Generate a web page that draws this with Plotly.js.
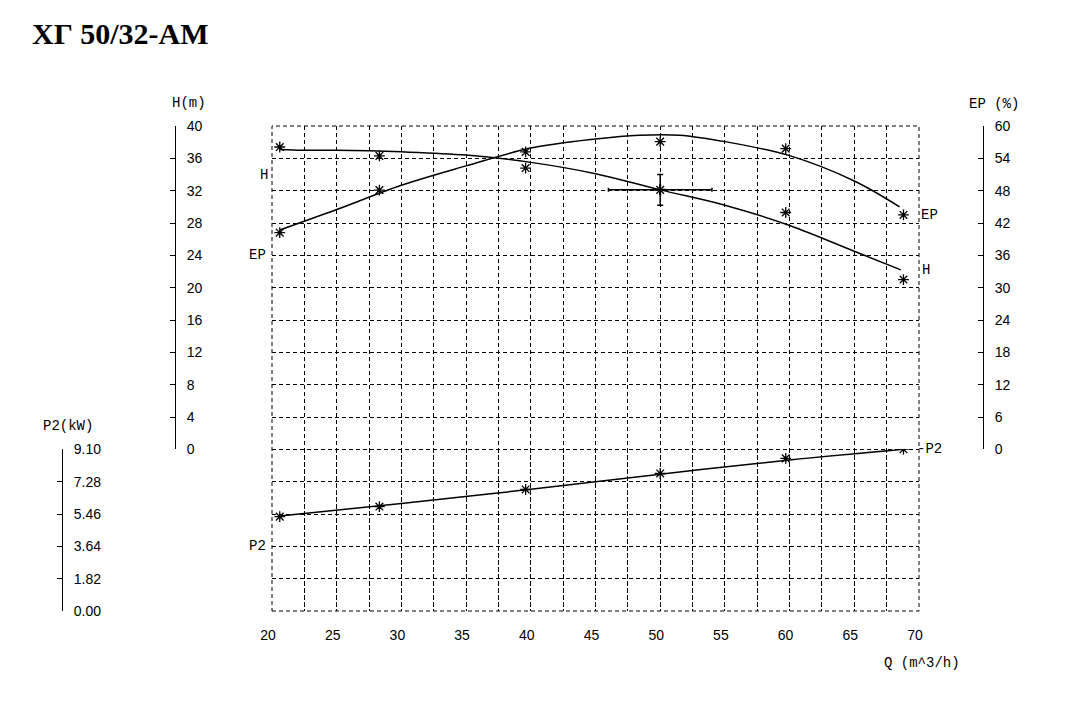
<!DOCTYPE html>
<html>
<head>
<meta charset="utf-8">
<script src="https://cdn.plot.ly/plotly-3.0.1.min.js"></script>
<style>html,body{margin:0;padding:0;background:#fff;}#chart{width:1074px;height:719px;}</style>
</head>
<body>
<div id="chart"></div>
<script>
// ---- data ----
const chartTitle = 'ХГ 50/32-АМ';
const xTickVals = [20, 22.5, 25, 27.5, 30, 32.5, 35, 37.5, 40, 42.5, 45, 47.5, 50, 52.5, 55, 57.5, 60, 62.5, 65, 67.5, 70];
const xTickText = ['20', '', '25', '', '30', '', '35', '', '40', '', '45', '', '50', '', '55', '', '60', '', '65', '', '70'];
const hTicks = [0, 4, 8, 12, 16, 20, 24, 28, 32, 36, 40];
const epTicks = [0, 6, 12, 18, 24, 30, 36, 42, 48, 54, 60];
const p2Ticks = [0, 1.82, 3.64, 5.46, 7.28, 9.10];

// measured points (asterisks)
const qPoints  = [20.6, 28.3, 39.6, 50.0, 59.7, 68.8];
const hPoints  = [37.4, 36.3, 34.8, 32.1, 29.3, 21.0];
const epPoints = [40.2, 48.1, 55.2, 57.1, 55.8, 43.5];
const p2Points = [5.31, 5.88, 6.84, 7.74, 8.59, 9.10];

// fitted curves
const qCurveH  = [20.6, 22.4, 25, 30, 35, 40, 45, 50, 55, 60, 65, 68.6];
const hCurve   = [37.1, 37.0, 37.0, 36.8, 36.4, 35.5, 34.1, 32.1, 30.2, 27.7, 24.5, 22.2];
const qCurveEP = [20.6, 25, 30, 35, 40, 45, 48.4, 51.5, 55, 60, 65, 68.5];
const epCurve  = [40.7, 44.5, 49.0, 52.6, 55.9, 57.6, 58.3, 58.3, 57.1, 54.5, 49.8, 45.0];
const qCurveP2 = [20.6, 30, 40, 50, 60, 68.8];
const p2Curve  = [5.35, 6.05, 6.85, 7.70, 8.50, 9.10];

// duty point with tolerance
const dutyQ = [50.0];
const dutyH = [32.1];
const dutyQTol = [4.0];
const dutyHTol = [1.9];

// ---- layout helpers ----
const W = 1074, H = 719;
const plotL = 272, plotR = 919, plotT = 126, plotB = 611;
const px = (x) => x / W;                               // paper x (margins l=r=0)
const py = (y) => (plotB - y) / (plotB - plotT);       // paper y (relative to plot area)
const lineFont = {family: 'Liberation Mono, DejaVu Sans Mono, monospace', size: 14, color: '#000'};
const tickFont = {family: 'Liberation Sans, Arial, sans-serif', size: 14, color: '#000'};
const dash = '4px,3px';

const curveLine = {color: '#000', width: 1.5, shape: 'spline', smoothing: 1};
const starMarker = {symbol: 'asterisk-open', size: 9, color: '#000', line: {color: '#000', width: 1.3}};

const traces = [
  // empty trace to create the full-height grid subplot
  {x: [], y: [], xaxis: 'x', yaxis: 'y', mode: 'markers', hoverinfo: 'skip'},
  {x: qCurveH, y: hCurve, xaxis: 'x', yaxis: 'y2', mode: 'lines', line: curveLine, hoverinfo: 'skip'},
  {x: qPoints, y: hPoints, xaxis: 'x', yaxis: 'y2', mode: 'markers', marker: starMarker},
  {x: qCurveEP, y: epCurve, xaxis: 'x', yaxis: 'y3', mode: 'lines', line: curveLine, hoverinfo: 'skip'},
  {x: qPoints, y: epPoints, xaxis: 'x', yaxis: 'y3', mode: 'markers', marker: starMarker},
  {x: qCurveP2, y: p2Curve, xaxis: 'x', yaxis: 'y4', mode: 'lines', line: curveLine, hoverinfo: 'skip'},
  {x: qPoints, y: p2Points, xaxis: 'x', yaxis: 'y4', mode: 'markers', marker: starMarker},
  {x: dutyQ, y: dutyH, xaxis: 'x', yaxis: 'y2', mode: 'markers',
   marker: {symbol: 'cross-thin-open', size: 8, color: '#000', line: {color: '#000', width: 2}},
   error_x: {type: 'data', array: dutyQTol, color: '#000', thickness: 1.5, width: 2},
   error_y: {type: 'data', array: dutyHTol, color: '#000', thickness: 1.5, width: 3}}
];

const sideAxis = (extra) => Object.assign({
  anchor: 'free', side: 'right', ticks: 'inside', ticklen: 5, tickwidth: 1, tickcolor: '#000',
  showline: true, linecolor: '#000', linewidth: 1, showgrid: false, zeroline: false,
  tickfont: tickFont, ticklabelstandoff: 8, fixedrange: true
}, extra);

const labelAnn = (text, xref, yref, x, y, xanchor, xshift) =>
  ({text, xref, yref, x, y, xanchor, xshift, yanchor: 'middle', showarrow: false, font: lineFont});

const layout = {
  width: W, height: H,
  margin: {l: 0, r: 0, t: plotT, b: H - plotB},
  paper_bgcolor: '#fff', plot_bgcolor: 'rgba(0,0,0,0)',
  showlegend: false,
  title: {text: chartTitle, xref: 'container', yref: 'container', x: 32 / W, xanchor: 'left',
          y: 1 - 33 / H, yanchor: 'middle',
          font: {family: 'Liberation Serif, Times New Roman, serif', size: 30, weight: 'bold', color: '#000'}},
  xaxis: {domain: [px(plotL), px(plotR)], range: [20, 70], anchor: 'y',
          tickmode: 'array', tickvals: xTickVals, ticktext: xTickText, ticks: '',
          showgrid: true, gridcolor: '#000', gridwidth: 1, griddash: dash,
          showline: false, zeroline: false, tickfont: tickFont, ticklabelstandoff: 14, ticklabelshift: -4,
          fixedrange: true},
  yaxis: {domain: [0, 1], range: [0, 15], dtick: 1, tick0: 0, anchor: 'x',
          showgrid: true, gridcolor: '#000', gridwidth: 1, griddash: dash,
          showticklabels: false, ticks: '', showline: false, zeroline: false, fixedrange: true},
  yaxis2: sideAxis({domain: [5 / 15, 1], range: [0, 40], tickmode: 'array', tickvals: hTicks, position: px(175)}),
  yaxis3: sideAxis({domain: [5 / 15, 1], range: [0, 60], tickmode: 'array', tickvals: epTicks, position: px(983)}),
  yaxis4: sideAxis({domain: [0, 5 / 15], range: [0, 9.1], tickmode: 'array', tickvals: p2Ticks, tickformat: '.2f', position: px(62)}),
  shapes: [
    {type: 'rect', xref: 'x domain', yref: 'y domain', x0: 0, x1: 1, y0: 0, y1: 1,
     line: {color: '#000', width: 1, dash: dash}, fillcolor: 'rgba(0,0,0,0)', layer: 'below'}
  ],
  annotations: [
    labelAnn('H(m)', 'paper', 'paper', px(189), py(103), 'center', 0),
    labelAnn('EP (%)', 'paper', 'paper', px(994), py(104), 'center', 0),
    labelAnn('P2(kW)', 'paper', 'paper', px(68), py(426), 'center', 0),
    labelAnn('Q (m^3/h)', 'paper', 'paper', px(922), py(663), 'center', 0),
    // curve labels, left of the plot
    labelAnn('H', 'x', 'y2', 20, 34.0, 'right', -2),
    labelAnn('EP', 'x', 'y3', 20, 36.0, 'right', -4),
    labelAnn('P2', 'x', 'y4', 20, 3.64, 'right', -4),
    // curve labels, right of the plot
    labelAnn('EP', 'x', 'y3', 70, epPoints[epPoints.length - 1], 'left', 0),
    labelAnn('H', 'x', 'y2', 70, hCurve[hCurve.length - 1], 'left', 1),
    labelAnn('-P2', 'x', 'y4', 70, p2Points[p2Points.length - 1], 'left', -4)
  ]
};

Plotly.newPlot('chart', traces, layout, {staticPlot: true, displayModeBar: false});
</script>
</body>
</html>
